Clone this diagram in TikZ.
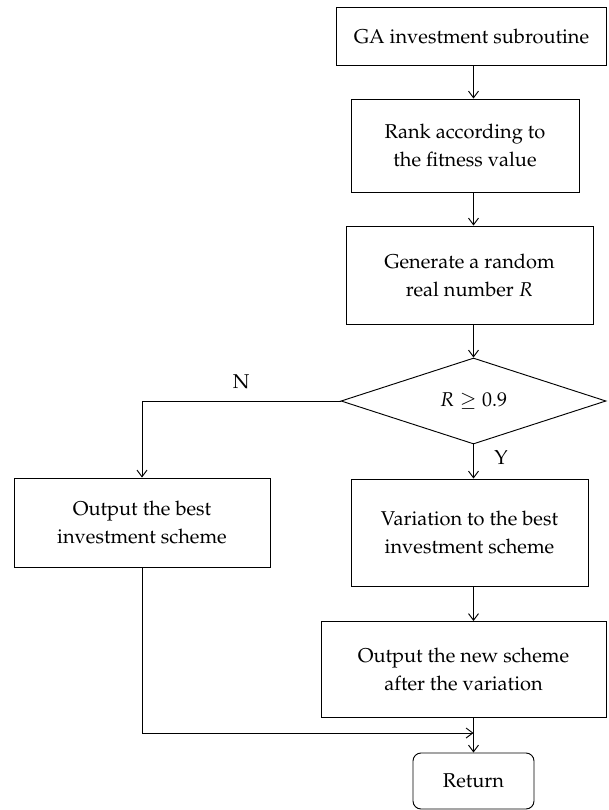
\documentclass[tikz,border=0pt]{standalone}
\usepackage[T1]{fontenc}
\usepackage{mathpazo}
\usepackage{tikz}
\usetikzlibrary{arrows.meta, shapes.geometric, positioning}

\tikzset{
    box/.style={draw, line width=0.7pt, align=center, inner sep=2pt,
        font=\fontsize{15}{21}\selectfont},
    decision/.style={draw, diamond, aspect=3, line width=0.7pt, inner sep=0pt,
        font=\fontsize{15}{21}\selectfont},
    arr/.style={line width=0.7pt, -{Straight Barb[length=5pt, width=7.5pt]}},
    lbl/.style={font=\fontsize{15}{18}\selectfont}
}

\begin{document}
\begin{tikzpicture}[x=0.75pt, y=-0.75pt]
    \useasboundingbox (0,0) rectangle (608,810);

    % Main column
    \node[box, minimum width=203pt, minimum height=43.5pt] (start) at (471.5,36) {GA investment subroutine};
    \node[box, minimum width=171pt, minimum height=69.75pt] (rank) at (465,145.5) {Rank according to\\the fitness value};
    \node[box, minimum width=185.25pt, minimum height=73.5pt] (gen) at (469.5,275) {Generate a random\\real number $R$};
    \node[decision, minimum width=198.75pt, minimum height=64.5pt] (dec) at (473.5,401) {$R \geq 0.9$};

    % Branches
    \node[box, minimum width=192pt, minimum height=66.75pt] (best) at (142,522.5) {Output the best\\investment scheme};
    \node[box, minimum width=177.75pt, minimum height=80.25pt] (vari) at (469.5,532.5) {Variation to the best\\investment scheme};
    \node[box, minimum width=213.75pt, minimum height=72pt] (newsch) at (463.5,669.5) {Output the new scheme\\after the variation};
    \node[box, rounded corners=6pt, minimum width=90.75pt, minimum height=42pt] (ret) at (473.5,781) {Return};

    \coordinate (join) at (473.5,733);

    % Arrows
    \draw[arr] (start.south -| dec) -- (rank.north -| dec);
    \draw[arr] (rank.south -| dec) -- (gen.north -| dec);
    \draw[arr] (gen.south -| dec) -- (dec.north);
    \draw[arr] (dec.west) -| (best.north) node[lbl, pos=0.25, above=5pt] {N};
    \draw[arr] (dec.south) -- (vari.north -| dec) node[lbl, pos=0.4, right=12pt] {Y};
    \draw[arr] (vari.south -| dec) -- (newsch.north -| dec);
    \draw[arr] (best.south) |- (join);
    \draw[arr] (newsch.south -| dec) -- (ret.north);
\end{tikzpicture}
\end{document}
